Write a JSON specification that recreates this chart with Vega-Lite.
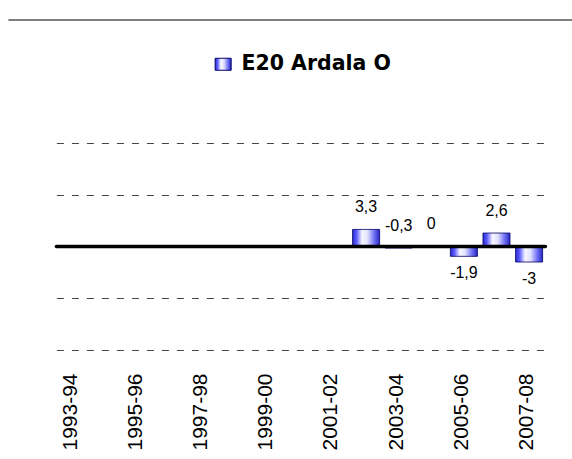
{
  "$schema": "https://vega.github.io/schema/vega-lite/v6.json",
  "padding": {"left": 7.4, "top": 19, "right": 0, "bottom": 0},
  "background": "white",
  "config": {
    "view": {"stroke": null},
    "locale": {"number": {"decimal": ",", "thousands": ".", "grouping": [3], "currency": ["", ""], "minus": "-"}},
    "font": "Liberation Sans"
  },
  "datasets": {
    "main": [
      {"year": "1993-94", "value": null, "series": "E20 Ardala O"},
      {"year": "1994-95", "value": null, "series": "E20 Ardala O"},
      {"year": "1995-96", "value": null, "series": "E20 Ardala O"},
      {"year": "1996-97", "value": null, "series": "E20 Ardala O"},
      {"year": "1997-98", "value": null, "series": "E20 Ardala O"},
      {"year": "1998-99", "value": null, "series": "E20 Ardala O"},
      {"year": "1999-00", "value": null, "series": "E20 Ardala O"},
      {"year": "2000-01", "value": null, "series": "E20 Ardala O"},
      {"year": "2001-02", "value": null, "series": "E20 Ardala O"},
      {"year": "2002-03", "value": 3.3, "series": "E20 Ardala O"},
      {"year": "2003-04", "value": -0.3, "series": "E20 Ardala O"},
      {"year": "2004-05", "value": 0, "series": "E20 Ardala O"},
      {"year": "2005-06", "value": -1.9, "series": "E20 Ardala O"},
      {"year": "2006-07", "value": 2.6, "series": "E20 Ardala O"},
      {"year": "2007-08", "value": -3, "series": "E20 Ardala O"}
    ]
  },
  "spacing": 122,
  "vconcat": [
    {
      "data": {"values": [{"frame": "top"}]},
      "width": 516,
      "height": 1,
      "mark": {"type": "rule", "color": "black", "strokeWidth": 1.2},
      "encoding": {
        "x": {"datum": 0, "type": "quantitative", "scale": {"domain": [0, 1], "range": [-48, 516]}, "axis": null},
        "x2": {"datum": 1},
        "y": {"datum": 1, "type": "quantitative", "scale": {"domain": [0, 1]}, "axis": null}
      }
    },
    {
      "data": {"name": "main"},
      "width": 489,
      "height": 207,
      "layer": [
        {
          "mark": {
            "type": "bar", "strokeWidth": 0.8,
            "fill": {"gradient": "linear", "x1": 0, "x2": 1, "y1": 0, "y2": 0, "stops": [
              {"offset": 0, "color": "#2a2ad0"},
              {"offset": 0.15, "color": "#5c5cff"},
              {"offset": 0.35, "color": "#f6f6ff"},
              {"offset": 0.55, "color": "#e2e2ff"},
              {"offset": 0.8, "color": "#7070f4"},
              {"offset": 1, "color": "#2626c0"}
            ]}
          },
          "encoding": {
            "x": {
              "field": "year", "type": "nominal", "sort": null,
              "scale": {
                "domain": ["1993-94","1994-95","1995-96","1996-97","1997-98","1998-99","1999-00","2000-01","2001-02","2002-03","2003-04","2004-05","2005-06","2006-07","2007-08"],
                "paddingInner": 0.17, "paddingOuter": 0.085
              },
              "axis": {
                "values": ["1993-94","1995-96","1997-98","1999-00","2001-02","2003-04","2005-06","2007-08"],
                "labelAngle": -90, "labelAlign": "right", "labelBaseline": "middle",
                "labelPadding": 23, "ticks": false, "domain": false, "title": null, "grid": false,
                "labelFontSize": 21, "labelColor": "black", "labelFont": "Liberation Sans", "labelOffset": -2
              }
            },
            "y": {
              "field": "value", "type": "quantitative",
              "scale": {"domain": [-20, 20], "nice": false},
              "axis": {
                "values": [-20, -10, 10, 20], "grid": true, "gridDash": [7, 8], "gridColor": "#444", "gridWidth": 1,
                "labels": false, "ticks": false, "domain": false, "title": null, "minExtent": 48, "maxExtent": 48
              }
            },
            "stroke": {
              "field": "series", "type": "nominal",
              "scale": {"range": ["#000066"]},
              "legend": {
                "title": null, "orient": "none", "legendX": 156.5, "legendY": 34,
                "symbolType": "M-1,-0.75H1V0.75H-1Z", "symbolSize": 256, "symbolStrokeWidth": 1,
                "symbolFillColor": {"gradient": "linear", "x1": 0, "x2": 1, "y1": 0, "y2": 0, "stops": [
                  {"offset": 0, "color": "#2a2ad0"},
                  {"offset": 0.2, "color": "#6060ff"},
                  {"offset": 0.4, "color": "#f6f6ff"},
                  {"offset": 0.6, "color": "#e2e2ff"},
                  {"offset": 0.8, "color": "#7070f4"},
                  {"offset": 1, "color": "#2626c0"}
                ]},
                "labelFont": "DejaVu Sans", "labelFontWeight": "bold", "labelFontSize": 20.5, "labelColor": "black",
                "labelOffset": 8, "labelLimit": 300, "padding": 0
              }
            }
          }
        },
        {
          "data": {"values": [{"zero": 0}]},
          "mark": {"type": "rule", "color": "black", "strokeWidth": 3.5, "strokeCap": "round"},
          "encoding": {"y": {"datum": 0, "type": "quantitative"}}
        },
        {
          "transform": [{"filter": "isValid(datum.value) && datum.value >= -0.5"}],
          "mark": {"type": "text", "dy": -22, "baseline": "middle", "fontSize": 16, "font": "Liberation Sans", "color": "black"},
          "encoding": {
            "x": {"field": "year", "type": "nominal", "sort": null},
            "y": {"field": "value", "type": "quantitative"},
            "text": {"field": "value", "type": "quantitative", "format": ".1~f"}
          }
        },
        {
          "transform": [{"filter": "isValid(datum.value) && datum.value < -0.5"}],
          "mark": {"type": "text", "dy": 17, "baseline": "middle", "fontSize": 16, "font": "Liberation Sans", "color": "black"},
          "encoding": {
            "x": {"field": "year", "type": "nominal", "sort": null},
            "y": {"field": "value", "type": "quantitative"},
            "text": {"field": "value", "type": "quantitative", "format": ".1~f"}
          }
        }
      ]
    }
  ]
}
